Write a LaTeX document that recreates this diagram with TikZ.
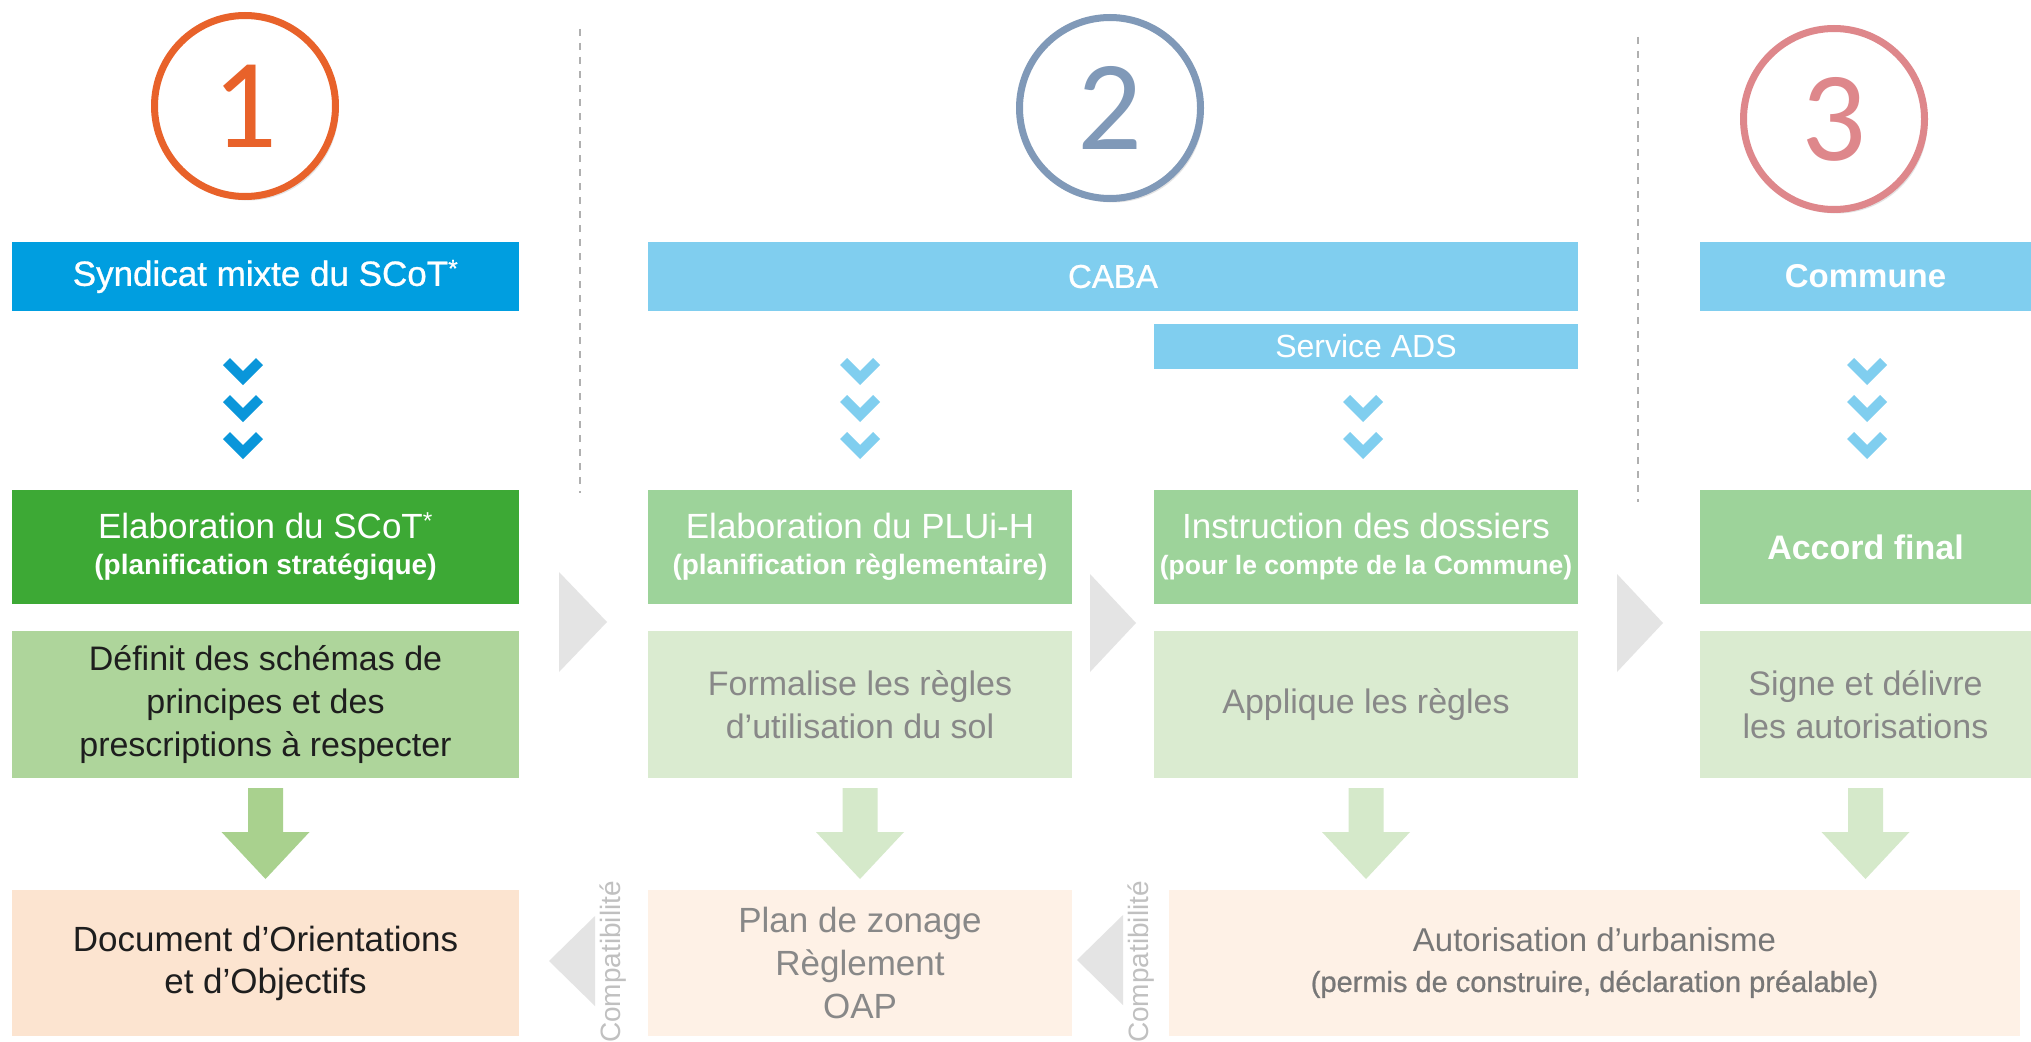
\documentclass[tikz,border=0pt]{standalone}
\usepackage{fontspec}
\setmainfont{Liberation Sans}
\newfontfamily\digitfont{Carlito}
\newfontfamily\mediumfont[FakeBold=0.8]{Liberation Sans}
\usetikzlibrary{shadows}

\definecolor{scotblue}{HTML}{009EE0}
\definecolor{chevblue}{HTML}{0A96DA}
\definecolor{lightblue}{HTML}{80CEEF}
\definecolor{darkgreen}{HTML}{3DA935}
\definecolor{midgreen}{HTML}{9DD39A}
\definecolor{olivegreen}{HTML}{AED59B}
\definecolor{palegreen}{HTML}{DAEBD0}
\definecolor{arrowgreen}{HTML}{A9D18E}
\definecolor{arrowpale}{HTML}{D5E9CA}
\definecolor{peach}{HTML}{FCE4D0}
\definecolor{palepeach}{HTML}{FEF1E6}
\definecolor{trigray}{HTML}{E4E4E4}
\definecolor{dashgray}{HTML}{B0B0B0}
\definecolor{textgray}{HTML}{888888}
\definecolor{darkgray}{HTML}{777777}
\definecolor{compgray}{HTML}{C0C0C0}
\definecolor{inkblack}{HTML}{1E1E1E}
\definecolor{numorange}{HTML}{E8622A}
\definecolor{numslate}{HTML}{8099B8}
\definecolor{numrose}{HTML}{DE878B}

\newcommand\pxsize[2]{\fontsize{#1}{#2}\selectfont}

\tikzset{
  panel/.style={rectangle, inner sep=0pt, outer sep=0pt, align=center},
  headbar/.style={panel, minimum height=69pt, text=white, font=\pxsize{35}{40}},
  stagebox/.style={panel, minimum height=114pt, text=white, font=\pxsize{35}{36}},
  descbox/.style={panel, minimum height=147pt, font=\pxsize{34}{43}},
  docbox/.style={panel, minimum height=146pt, font=\pxsize{35}{43}},
  numring/.style={circle, line width=7pt, fill=white, minimum size=181pt,
    inner sep=0pt, drop shadow={opacity=0.22, shadow xshift=3pt, shadow yshift=-4pt},
    font=\digitfont\pxsize{128}{128}},
  nexttri/.style={fill=trigray},
  comptext/.style={rotate=90, text=compgray, font=\pxsize{28}{28}},
  divider/.style={dashgray, line width=2pt, dash pattern=on 7pt off 7pt},
  chevron/.pic={\path[pic actions] (-20,-7) -- (-13,-14) -- (0,-1) -- (13,-14)
      -- (20,-7) -- (0,13) -- cycle;},
  downarrow/.pic={\path[pic actions] (-17.5,0) -- (17.5,0) -- (17.5,44) -- (44,44)
      -- (0,91) -- (-44,44) -- (-17.5,44) -- cycle;}
}

\begin{document}
\begin{tikzpicture}[x=1pt,y=-1pt]
\clip (0,0) rectangle (2031,1041);
\fill[white] (0,0) rectangle (2031,1041);

% dashed dividers between the three stages
\draw[divider] (580,29) -- (580,493);
\draw[divider] (1638,37) -- (1638,502);

% numbered rings
\node[numring, draw=numorange, text=numorange] (ring1) at (245,106) {1};
\node[numring, draw=numslate, text=numslate] (ring2) at (1110,108) {2};
\node[numring, draw=numrose, text=numrose] (ring3) at (1834,119) {3};

% actors
\node[headbar, fill=scotblue, minimum width=507pt, font=\mediumfont\pxsize{35}{40}] (syndicat) at (265.5,276.5)
  {Syndicat mixte du SCoT\textsuperscript{*}};
\node[headbar, fill=lightblue, minimum width=930pt, font=\mediumfont\pxsize{33}{36}] (caba) at (1113,276.5) {CABA};
\node[headbar, fill=lightblue, minimum width=331pt, font=\bfseries\pxsize{33}{36}] (commune) at (1865.5,276.5) {Commune};
\node[panel, fill=lightblue, minimum width=424pt, minimum height=45pt, text=white,
  font=\pxsize{32}{34}] (ads) at (1366,346.5) {Service ADS};

% chevrons
\foreach \yy in {372,409,446} {
  \pic[fill=chevblue] at (243,\yy) {chevron};
  \pic[fill=lightblue] at (860,\yy) {chevron};
  \pic[fill=lightblue] at (1867,\yy) {chevron};
}
\foreach \yy in {409,446} {
  \pic[fill=lightblue] at (1363,\yy) {chevron};
}

% stages
\node[stagebox, fill=darkgreen, minimum width=507pt] (elabscot) at (265.5,547)
  {Elaboration du SCoT\textsuperscript{*}\\{\bfseries\pxsize{28}{36}(planification stratégique)}};
\node[stagebox, fill=midgreen, minimum width=424pt] (elabplu) at (860,547)
  {Elaboration du PLUi-H\\{\bfseries\pxsize{28}{36}(planification règlementaire)}};
\node[stagebox, fill=midgreen, minimum width=424pt] (instr) at (1366,547)
  {Instruction des dossiers\\{\bfseries\pxsize{26.5}{36}(pour le compte de la Commune)}};
\node[stagebox, fill=midgreen, minimum width=331pt, font=\bfseries\pxsize{34}{36}] (accord) at (1865.5,547)
  {Accord final};

% descriptions
\node[descbox, fill=olivegreen, minimum width=507pt, text=inkblack] (definit) at (265.5,704.5)
  {Définit des schémas de\\principes et des\\prescriptions à respecter};
\node[descbox, fill=palegreen, minimum width=424pt, text=textgray] (formalise) at (860,704.5)
  {Formalise les règles\\d’utilisation du sol};
\node[descbox, fill=palegreen, minimum width=424pt, text=textgray] (applique) at (1366,704.5)
  {Applique les règles};
\node[descbox, fill=palegreen, minimum width=331pt, text=textgray] (signe) at (1865.5,704.5)
  {Signe et délivre\\les autorisations};

% flow triangles between stages
\fill[nexttri] (559,572) -- (607,622) -- (559,672) -- cycle;
\fill[nexttri] (1090,574) -- (1136,623) -- (1090,672) -- cycle;
\fill[nexttri] (1617,574) -- (1663,623) -- (1617,672) -- cycle;

% outputs
\pic[fill=arrowgreen] at ([yshift=-10pt]definit.south) {downarrow};
\pic[fill=arrowpale] at ([yshift=-10pt]formalise.south) {downarrow};
\pic[fill=arrowpale] at ([yshift=-10pt]applique.south) {downarrow};
\pic[fill=arrowpale] at ([yshift=-10pt]signe.south) {downarrow};

\node[docbox, fill=peach, minimum width=507pt, text=inkblack, font=\pxsize{35}{42}] (doo) at (265.5,963)
  {Document d’Orientations\\et d’Objectifs};
\node[docbox, fill=palepeach, minimum width=424pt, text=textgray] (zonage) at (860,963)
  {Plan de zonage\\Règlement\\OAP};
\node[docbox, fill=palepeach, minimum width=851pt, text=darkgray, font=\pxsize{33}{40}] (autor) at (1594.5,963)
  {Autorisation d’urbanisme\\{\mediumfont\pxsize{29}{40}(permis de construire, déclaration préalable)}};

% compatibility links
\fill[nexttri] (595,916) -- (549,961) -- (595,1006) -- cycle;
\fill[nexttri] (1123,915) -- (1077,960) -- (1123,1005) -- cycle;
\node[comptext] (comp1) at (613,962) {Compatibilité};
\node[comptext] (comp2) at (1141,962) {Compatibilité};
\end{tikzpicture}
\end{document}
